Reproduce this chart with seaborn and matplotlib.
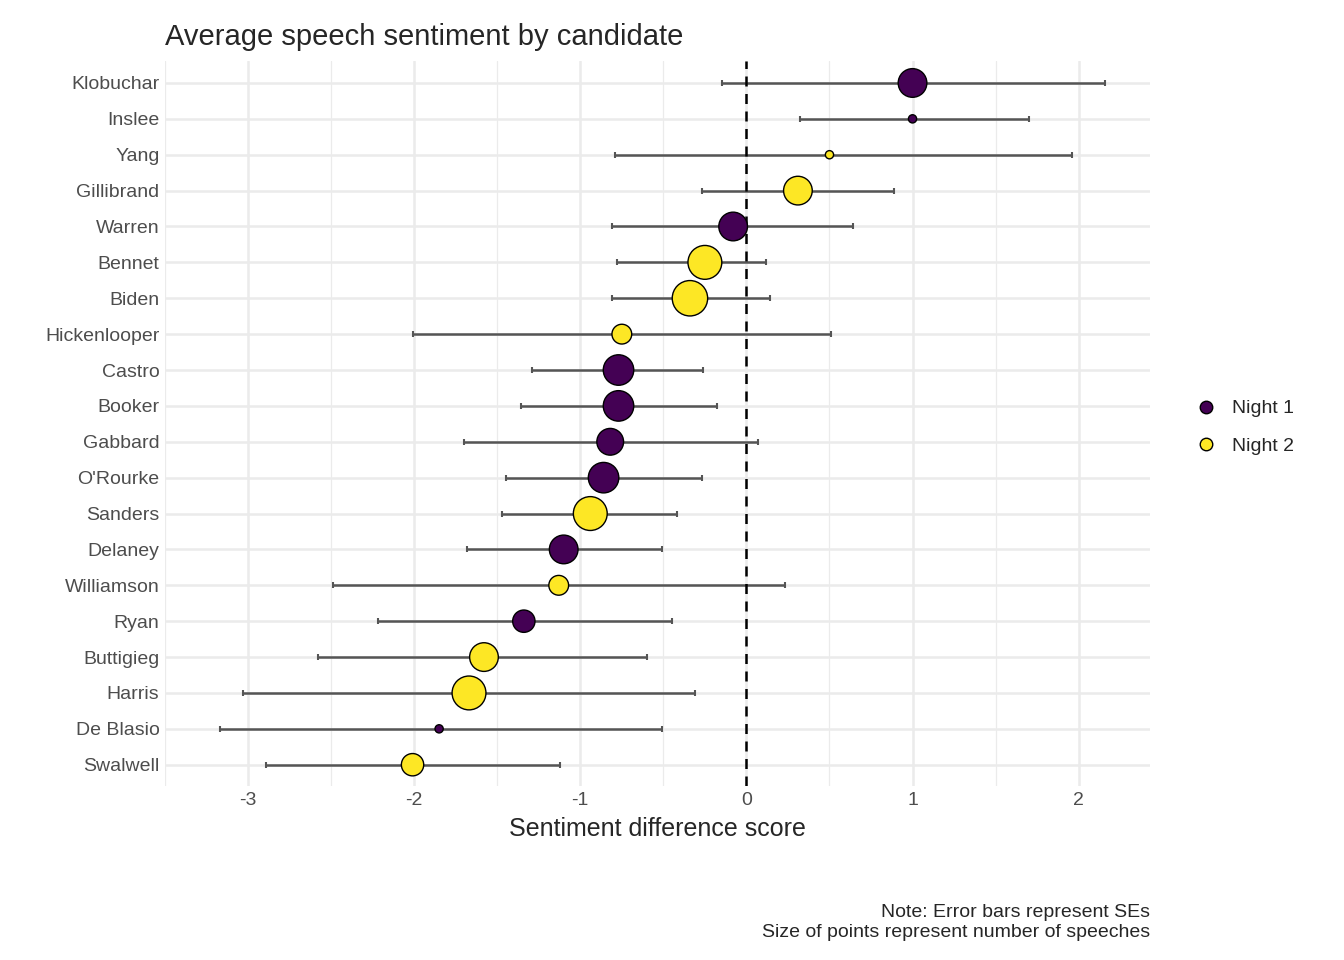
import numpy as np
import pandas as pd
import matplotlib
matplotlib.use("Agg")
import matplotlib.pyplot as plt
from matplotlib.lines import Line2D
import seaborn as sns

candidates = ["Klobuchar", "Inslee", "Yang", "Gillibrand", "Warren", "Bennet", "Biden",
              "Hickenlooper", "Castro", "Booker", "Gabbard", "O'Rourke", "Sanders", "Delaney",
              "Williamson", "Ryan", "Buttigieg", "Harris", "De Blasio", "Swalwell"]
means = [1.00, 1.00, 0.50, 0.31, -0.08, -0.25, -0.34, -0.75, -0.77, -0.77, -0.82, -0.86,
         -0.94, -1.10, -1.13, -1.34, -1.58, -1.67, -1.85, -2.01]
lows = [-0.15, 0.32, -0.79, -0.27, -0.81, -0.78, -0.81, -2.01, -1.29, -1.36, -1.70, -1.45,
        -1.47, -1.68, -2.49, -2.22, -2.58, -3.03, -3.17, -2.89]
highs = [2.16, 1.70, 1.96, 0.89, 0.64, 0.12, 0.14, 0.51, -0.26, -0.18, 0.07, -0.27,
         -0.42, -0.51, 0.23, -0.45, -0.60, -0.31, -0.51, -1.12]
nights = ["Night 1", "Night 1", "Night 2", "Night 2", "Night 1", "Night 2", "Night 2",
          "Night 2", "Night 1", "Night 1", "Night 1", "Night 1", "Night 2", "Night 1",
          "Night 2", "Night 1", "Night 2", "Night 2", "Night 1", "Night 2"]
speeches = [8, 1, 1, 8, 8, 11, 12, 4, 9, 9, 7, 9, 11, 8, 4, 5, 8, 11, 1, 5]

df = pd.DataFrame({"candidate": candidates, "mean": means, "lo": lows, "hi": highs,
                   "night": nights, "n": speeches})
df["y"] = np.arange(len(df))

palette = {"Night 1": "#440154", "Night 2": "#FDE725"}

sns.set_style("white")
plt.rcParams["font.family"] = ["Liberation Sans", "DejaVu Sans"]
plt.rcParams["axes.unicode_minus"] = False
fig, ax = plt.subplots(figsize=(13.44, 9.6), dpi=100)
fig.subplots_adjust(left=0.1228, right=0.8557, top=0.936, bottom=0.181)

ax.errorbar(df["mean"], df["y"], xerr=[df["mean"] - df["lo"], df["hi"] - df["mean"]],
            fmt="none", ecolor="#555555", elinewidth=1.8, capsize=2.5, capthick=1.5, zorder=2)
ax.axvline(0, color="black", linestyle=(0, (4, 3)), linewidth=1.8, zorder=3)
sns.scatterplot(data=df, x="mean", y="y", hue="night", palette=palette, size="n",
                sizes=(35, 650), edgecolor="black", linewidth=1.0, legend=False, ax=ax, zorder=4)

ax.set_yticks(df["y"])
ax.set_yticklabels(df["candidate"])
ax.set_ylim(19.6, -0.6)
ax.set_xlim(-3.43, 2.43)
ax.set_xticks([-3, -2, -1, 0, 1, 2])
ax.set_xticks(np.arange(-3.5, 2.5, 0.5), minor=True)
ax.grid(True, which="major", color="#EBEBEB", linewidth=1.8)
ax.grid(True, which="minor", axis="x", color="#EBEBEB", linewidth=0.9)
ax.set_axisbelow(True)
for s in ax.spines.values():
    s.set_visible(False)
ax.tick_params(axis="both", which="both", length=0, labelsize=14, labelcolor="#4D4D4D", pad=4)
ax.set_xlabel("Sentiment difference score", fontsize=18, labelpad=6)
ax.set_ylabel("")
ax.set_title("Average speech sentiment by candidate", fontsize=21, loc="left", pad=12)

handles = [Line2D([], [], marker="o", linestyle="", markerfacecolor=palette[k],
                  markeredgecolor="black", markersize=9, label=k) for k in palette]
fig.legend(handles=handles, loc="center left", bbox_to_anchor=(0.87, 0.555), frameon=False,
           fontsize=14, handletextpad=0.3, labelspacing=1.0)

fig.text(0.8557, 0.02, "Note: Error bars represent SEs\nSize of points represent number of speeches",
         ha="right", va="bottom", fontsize=14)

fig.savefig("out.png", dpi=100)
